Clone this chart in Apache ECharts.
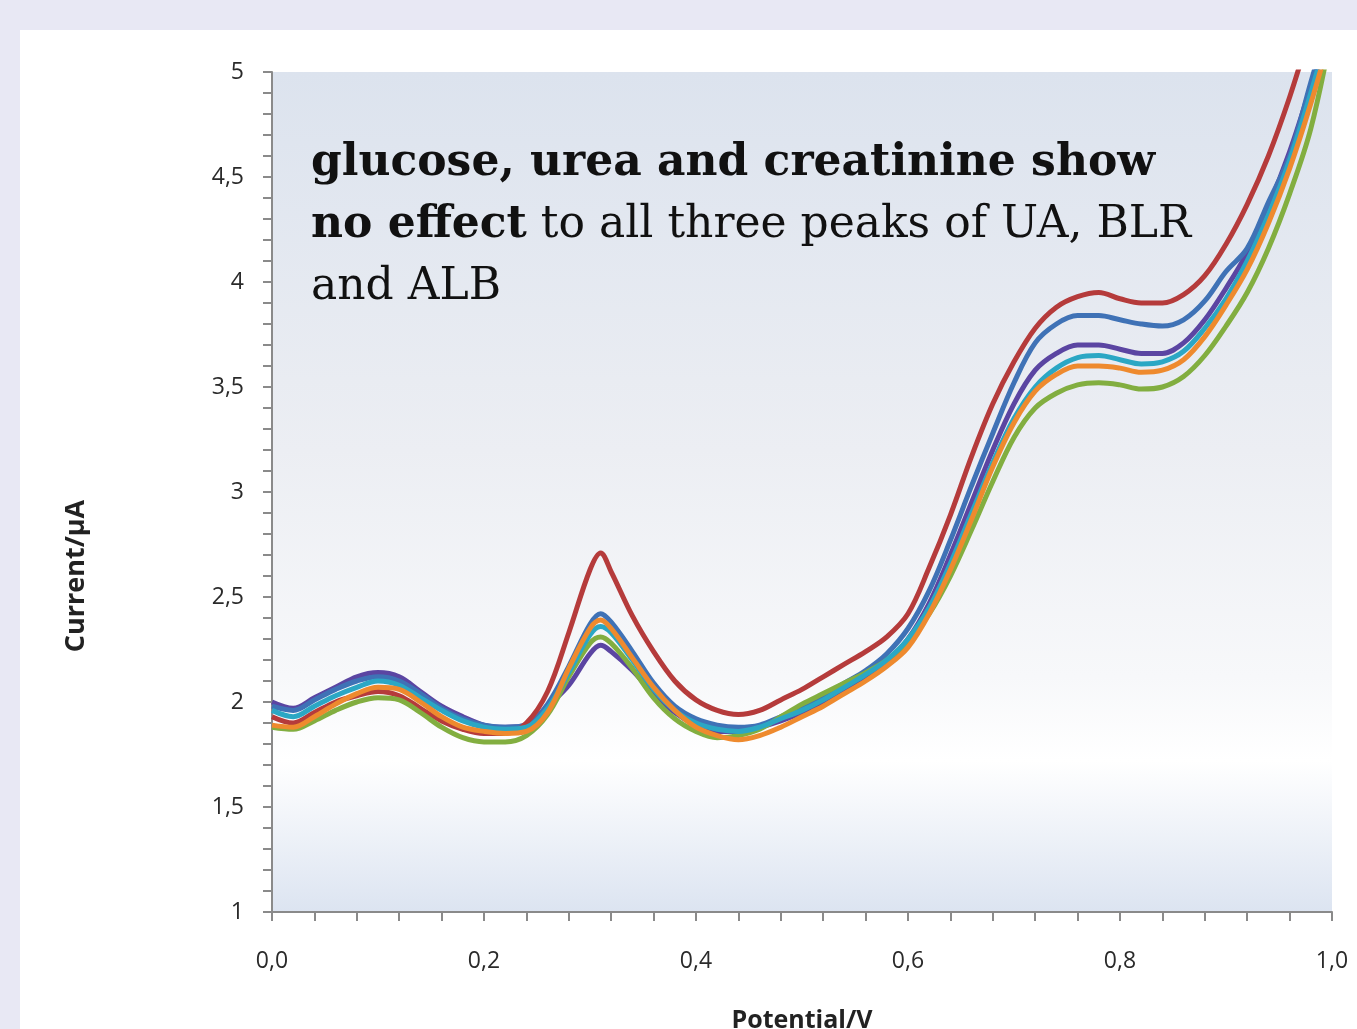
<!DOCTYPE html>
<html>
<head>
<meta charset="utf-8">
<script src="https://cdn.jsdelivr.net/npm/echarts@6/dist/echarts.min.js"></script>
<style>
html,body{margin:0;padding:0;background:#e8e8f4;}
#c{width:1357px;height:1029px;}
</style>
</head>
<body>
<div id="c"></div>
<script>
const potentials = [0,0.02,0.04,0.06,0.08,0.10,0.12,0.14,0.16,0.18,0.20,0.22,0.24,0.26,0.28,0.30,0.31,0.32,0.34,0.36,0.38,0.40,0.42,0.44,0.46,0.48,0.50,0.52,0.54,0.56,0.58,0.60,0.62,0.64,0.66,0.68,0.70,0.72,0.74,0.76,0.78,0.80,0.82,0.84,0.86,0.88,0.90,0.92,0.94,0.96,0.98,1.00];

const purpleCurrent = [2.00,1.97,2.02,2.07,2.12,2.14,2.12,2.05,1.98,1.93,1.89,1.88,1.89,1.98,2.08,2.23,2.27,2.24,2.15,2.04,1.95,1.89,1.86,1.86,1.88,1.91,1.95,2.00,2.06,2.12,2.19,2.30,2.47,2.70,2.95,3.20,3.42,3.58,3.66,3.70,3.70,3.68,3.66,3.66,3.71,3.82,3.97,4.14,4.36,4.62,4.93,5.25];
const blueCurrent   = [1.98,1.96,2.01,2.06,2.10,2.12,2.10,2.04,1.97,1.92,1.89,1.88,1.89,1.99,2.17,2.37,2.42,2.38,2.24,2.09,1.98,1.92,1.89,1.88,1.89,1.93,1.97,2.03,2.09,2.15,2.23,2.35,2.53,2.77,3.03,3.28,3.52,3.71,3.80,3.84,3.84,3.82,3.80,3.79,3.82,3.91,4.05,4.16,4.38,4.60,4.95,5.30];
const redCurrent    = [1.93,1.90,1.95,2.00,2.03,2.05,2.03,1.97,1.91,1.87,1.85,1.85,1.90,2.05,2.33,2.63,2.71,2.62,2.41,2.24,2.10,2.01,1.96,1.94,1.96,2.01,2.06,2.12,2.18,2.24,2.31,2.42,2.64,2.89,3.17,3.42,3.62,3.78,3.88,3.93,3.95,3.92,3.90,3.90,3.94,4.03,4.18,4.37,4.60,4.88,5.20,5.50];
const greenCurrent  = [1.88,1.87,1.91,1.96,2.00,2.02,2.01,1.95,1.88,1.83,1.81,1.81,1.84,1.94,2.12,2.28,2.31,2.28,2.16,2.02,1.92,1.86,1.83,1.84,1.87,1.93,1.99,2.04,2.09,2.14,2.20,2.29,2.42,2.60,2.82,3.05,3.26,3.40,3.47,3.51,3.52,3.51,3.49,3.50,3.55,3.65,3.79,3.95,4.16,4.42,4.73,5.20];
const cyanCurrent   = [1.96,1.93,1.98,2.03,2.07,2.10,2.08,2.02,1.96,1.91,1.88,1.87,1.88,1.97,2.14,2.32,2.36,2.33,2.20,2.06,1.96,1.90,1.87,1.86,1.88,1.92,1.96,2.01,2.07,2.13,2.20,2.30,2.45,2.66,2.90,3.14,3.35,3.50,3.59,3.64,3.65,3.63,3.61,3.62,3.67,3.78,3.92,4.10,4.32,4.58,4.90,5.25];
const orangeCurrent = [1.89,1.88,1.93,1.99,2.04,2.07,2.06,2.00,1.93,1.88,1.86,1.85,1.86,1.95,2.16,2.35,2.39,2.35,2.21,2.07,1.96,1.88,1.84,1.82,1.84,1.88,1.93,1.98,2.04,2.10,2.17,2.26,2.42,2.63,2.87,3.12,3.33,3.48,3.56,3.60,3.60,3.59,3.57,3.58,3.63,3.74,3.89,4.06,4.28,4.54,4.85,5.20];

const yTickLabels = {1:'1',1.5:'1,5',2:'2',2.5:'2,5',3:'3',3.5:'3,5',4:'4',4.5:'4,5',5:'5'};
const xTickLabels = {0:'0,0',0.2:'0,2',0.4:'0,4',0.6:'0,6',0.8:'0,8',1:'1,0'};

function pairs(ys){ return potentials.map((x,i)=>[x, ys[i]]); }

const seriesDefs = [
  {name:'purple', data:purpleCurrent, color:'#5b45a2'},
  {name:'blue', data:blueCurrent, color:'#3f72b6'},
  {name:'red', data:redCurrent, color:'#b53b3b'},
  {name:'green', data:greenCurrent, color:'#82ae40'},
  {name:'cyan', data:cyanCurrent, color:'#2ba7c4'},
  {name:'orange', data:orangeCurrent, color:'#ee8a2e'}
];

const chart = echarts.init(document.getElementById('c'), null, {renderer:'canvas'});
const labelFont = "'Open Sans', 'Liberation Sans', sans-serif";
const axisGray = '#8a8a8a';

chart.setOption({
  animation:false,
  backgroundColor:'#e8e8f4',
  graphic:[
    {type:'rect', z:-10, shape:{x:20,y:30,width:1400,height:1100}, style:{fill:'#ffffff'}},
    {type:'text', x:76, y:576, rotation:Math.PI/2, z:10,
     style:{text:'Current/µA', font:"bold 27px 'Open Sans', sans-serif", fill:'#222', align:'center', verticalAlign:'middle'}},
    {type:'text', x:311, y:133, z:10,
     style:{
       text:'{b|glucose, urea and creatinine show}\n{b|no effect}{n| to all three peaks of UA, BLR}\n{n|and ALB}',
       rich:{
         b:{font:"bold 44px 'DejaVu Serif', serif", fill:'#111', lineHeight:62},
         n:{font:"44px 'DejaVu Serif', serif", fill:'#111', lineHeight:62}
       }
     }}
  ],
  grid:{left:272, right:25, top:72, bottom:117, show:true, borderWidth:0,
    containLabel:false, outerBoundsMode:'none',
    backgroundColor:new echarts.graphic.LinearGradient(0,0,0,1,[
      {offset:0, color:'#dce3ee'},
      {offset:0.45, color:'#eceef3'},
      {offset:0.72, color:'#f7f8fa'},
      {offset:0.82, color:'#ffffff'},
      {offset:1, color:'#dce4f1'}
    ])},
  xAxis:{type:'value', min:0, max:1, interval:0.2,
    name:'Potential/V', nameLocation:'middle', nameGap:96,
    nameTextStyle:{fontFamily:labelFont, fontWeight:'bold', fontSize:25, color:'#222', verticalAlign:'top'},
    axisLine:{show:true, onZero:false, lineStyle:{color:axisGray, width:2}},
    axisTick:{show:true, length:9, lineStyle:{color:axisGray, width:2}},
    minorTick:{show:true, splitNumber:5, length:9, lineStyle:{color:axisGray, width:2}},
    splitLine:{show:false},
    axisLabel:{margin:38, fontFamily:labelFont, fontSize:23, color:'#2a2a2a',
      formatter:v=>xTickLabels[Math.round(v*10)/10] ?? ''}
  },
  yAxis:{type:'value', min:1, max:5, interval:0.5,
    axisLine:{show:true, onZero:false, lineStyle:{color:axisGray, width:2}},
    axisTick:{show:true, length:9, lineStyle:{color:axisGray, width:2}},
    minorTick:{show:true, splitNumber:5, length:9, lineStyle:{color:axisGray, width:2}},
    splitLine:{show:false},
    axisLabel:{margin:28, fontFamily:labelFont, fontSize:23, color:'#2a2a2a',
      formatter:v=>yTickLabels[Math.round(v*10)/10] ?? ''}
  },
  series:seriesDefs.map(s=>({
    name:s.name, type:'line', data:pairs(s.data), showSymbol:false, symbol:'none',
    smooth:0.35, clip:true,
    lineStyle:{color:s.color, width:5},
    itemStyle:{color:s.color}
  }))
});
</script>
</body>
</html>
